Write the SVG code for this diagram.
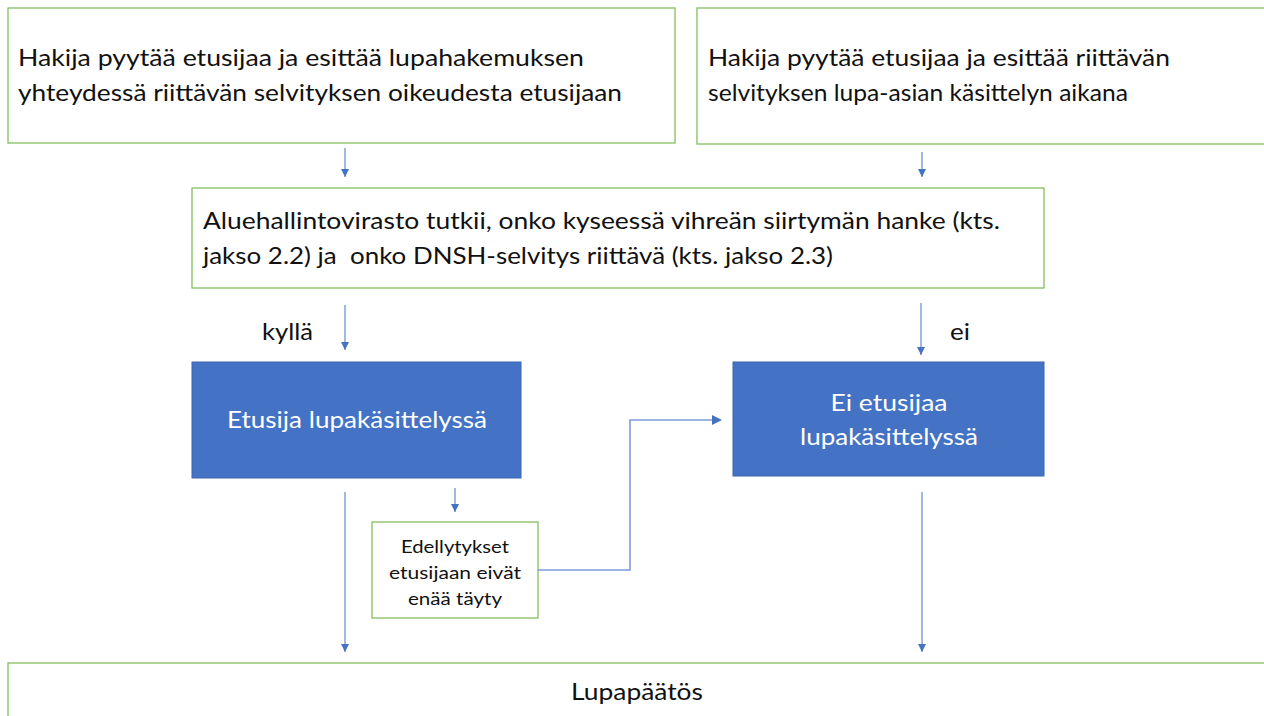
<svg xmlns="http://www.w3.org/2000/svg" width="1264" height="716" viewBox="0 0 1264 716">
<defs>
<style>
.g{fill:#fff;stroke:#84bf60;stroke-width:1.3}
.b{fill:#4472C4;stroke:#3a64ae;stroke-width:1}
.t{font-family:Lato,"Open Sans",sans-serif;font-size:24px;fill:#111}
.w{font-family:Lato,"Open Sans",sans-serif;font-size:24px;fill:#fff;text-anchor:middle}
.s{font-family:Lato,"Open Sans",sans-serif;font-size:18px;fill:#111;text-anchor:middle}
.c{fill:none;stroke:#4472C4;stroke-width:1}
.e{fill:none;stroke:#7b9cdb;stroke-width:1.6}
</style>
<marker id="a" viewBox="0 0 10 10" refX="10" refY="5" markerWidth="8" markerHeight="8" markerUnits="userSpaceOnUse" orient="auto">
<path d="M0,0 L10,5 L0,10 z" fill="#4472C4"/>
</marker>
</defs>
<rect width="1264" height="716" fill="#fff"/>
<g id="n1"><rect class="g" x="8" y="8" width="667" height="135"/>
<text class="t" x="18" y="66" textLength="566" lengthAdjust="spacingAndGlyphs">Hakija pyytää etusijaa ja esittää lupahakemuksen</text>
<text class="t" x="18" y="101" textLength="604" lengthAdjust="spacingAndGlyphs">yhteydessä riittävän selvityksen oikeudesta etusijaan</text></g>
<g id="n2"><rect class="g" x="697" y="8" width="580" height="136"/>
<text class="t" x="708" y="66" textLength="462" lengthAdjust="spacingAndGlyphs">Hakija pyytää etusijaa ja esittää riittävän</text>
<text class="t" x="708" y="101" textLength="420" lengthAdjust="spacingAndGlyphs">selvityksen lupa-asian käsittelyn aikana</text></g>
<g id="n3"><rect class="g" x="192" y="188" width="852" height="100"/>
<text class="t" x="203" y="229" textLength="797" lengthAdjust="spacingAndGlyphs">Aluehallintovirasto tutkii, onko kyseessä vihreän siirtymän hanke (kts.</text>
<text class="t" x="203" y="264" textLength="630" lengthAdjust="spacingAndGlyphs" xml:space="preserve">jakso 2.2) ja  onko DNSH-selvitys riittävä (kts. jakso 2.3)</text></g>
<g id="l1"><text class="t" x="262" y="340" textLength="51" lengthAdjust="spacingAndGlyphs">kyllä</text></g>
<g id="l2"><text class="t" x="950" y="340" textLength="20" lengthAdjust="spacingAndGlyphs">ei</text></g>
<g id="n4"><rect class="b" x="192" y="362" width="329" height="116"/>
<text class="w" x="357" y="428" textLength="260" lengthAdjust="spacingAndGlyphs">Etusija lupakäsittelyssä</text></g>
<g id="n5"><rect class="b" x="733" y="362" width="311" height="114"/>
<text class="w" x="889" y="411" textLength="117" lengthAdjust="spacingAndGlyphs">Ei etusijaa</text>
<text class="w" x="889" y="445" textLength="178" lengthAdjust="spacingAndGlyphs">lupakäsittelyssä</text></g>
<g id="n6"><rect class="g" x="372" y="522" width="166" height="96"/>
<text class="s" x="455" y="553" textLength="108" lengthAdjust="spacingAndGlyphs">Edellytykset</text>
<text class="s" x="455" y="579" textLength="132" lengthAdjust="spacingAndGlyphs">etusijaan eivät</text>
<text class="s" x="455" y="605" textLength="94" lengthAdjust="spacingAndGlyphs">enää täyty</text></g>
<g id="n7"><rect class="g" x="8" y="663" width="1270" height="70"/>
<text class="t" x="637" y="700" text-anchor="middle" textLength="132" lengthAdjust="spacingAndGlyphs">Lupapäätös</text></g>
<g id="connectors">
<path class="c" d="M345,148 V177" marker-end="url(#a)"/>
<path class="c" d="M922,152 V177" marker-end="url(#a)"/>
<path class="c" d="M345,305 V350" marker-end="url(#a)"/>
<path class="c" d="M921,303 V355" marker-end="url(#a)"/>
<path class="c" d="M455,488 V512" marker-end="url(#a)"/>
<path class="e" d="M538,570 H630 V420 H712"/>
<path d="M712,415 L722,420 L712,425 z" fill="#4472C4"/>
<path class="c" d="M345,492 V652" marker-end="url(#a)"/>
<path class="c" d="M922,492 V652" marker-end="url(#a)"/>
</g>
</svg>
